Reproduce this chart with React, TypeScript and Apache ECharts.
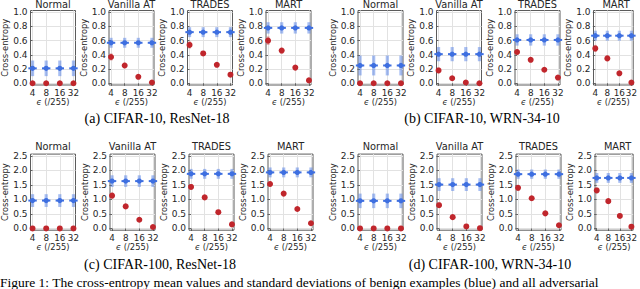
import React, { useEffect, useRef } from "react";
import * as echarts from "echarts";

const epsLabels = ["4", "8", "16", "32"];
const methods = ["Normal", "Vanilla AT", "TRADES", "MART"];
const captions = [
  "(a) CIFAR-10, ResNet-18",
  "(b) CIFAR-10, WRN-34-10",
  "(c) CIFAR-100, ResNet-18",
  "(d) CIFAR-100, WRN-34-10",
];
const figureCaption =
  "Figure 1: The cross-entropy mean values and standard deviations of benign examples (blue) and all adversarial";

// (a) CIFAR-10, ResNet-18
const aBenign = [
  [0.21, 0.21, 0.21, 0.21],
  [0.57, 0.57, 0.57, 0.57],
  [0.72, 0.72, 0.72, 0.72],
  [0.78, 0.78, 0.78, 0.78],
];
const aBenignSd = [0.11, 0.07, 0.07, 0.08];
const aAdv = [
  [0.0, 0.0, 0.0, 0.0],
  [0.37, 0.25, 0.09, 0.01],
  [0.54, 0.42, 0.26, 0.12],
  [0.6, 0.46, 0.22, 0.04],
];
const aAdvSd = [
  [0.01, 0.01, 0.01, 0.01],
  [0.05, 0.04, 0.02, 0.01],
  [0.05, 0.03, 0.02, 0.01],
  [0.06, 0.04, 0.03, 0.01],
];

// (b) CIFAR-10, WRN-34-10
const bBenign = [
  [0.25, 0.25, 0.25, 0.25],
  [0.41, 0.41, 0.41, 0.41],
  [0.61, 0.61, 0.61, 0.61],
  [0.67, 0.67, 0.67, 0.67],
];
const bBenignSd = [0.14, 0.1, 0.08, 0.07];
const bAdv = [
  [0.0, 0.0, 0.0, 0.0],
  [0.18, 0.07, 0.01, 0.0],
  [0.44, 0.33, 0.19, 0.08],
  [0.49, 0.35, 0.14, 0.01],
];
const bAdvSd = [
  [0.01, 0.01, 0.01, 0.01],
  [0.04, 0.02, 0.01, 0.01],
  [0.04, 0.03, 0.02, 0.01],
  [0.05, 0.04, 0.02, 0.01],
];

// (c) CIFAR-100, ResNet-18
const cBenign = [
  [0.96, 0.96, 0.96, 0.96],
  [1.63, 1.63, 1.63, 1.63],
  [1.88, 1.88, 1.88, 1.88],
  [1.93, 1.93, 1.93, 1.93],
];
const cBenignSd = [0.22, 0.2, 0.17, 0.17];
const cAdv = [
  [0.0, 0.0, 0.0, 0.0],
  [1.13, 0.76, 0.3, 0.05],
  [1.43, 1.07, 0.56, 0.14],
  [1.53, 1.2, 0.67, 0.18],
];
const cAdvSd = [
  [0.02, 0.02, 0.02, 0.02],
  [0.1, 0.08, 0.05, 0.02],
  [0.1, 0.08, 0.05, 0.03],
  [0.1, 0.08, 0.06, 0.03],
];

// (d) CIFAR-100, WRN-34-10
const dBenign = [
  [0.95, 0.95, 0.95, 0.95],
  [1.51, 1.51, 1.51, 1.51],
  [1.87, 1.87, 1.87, 1.87],
  [1.74, 1.74, 1.74, 1.74],
];
const dBenignSd = [0.25, 0.22, 0.16, 0.17];
const dAdv = [
  [0.0, 0.0, 0.0, 0.0],
  [0.8, 0.39, 0.07, 0.01],
  [1.4, 1.04, 0.52, 0.11],
  [1.31, 0.94, 0.43, 0.06],
];
const dAdvSd = [
  [0.02, 0.02, 0.02, 0.02],
  [0.09, 0.06, 0.03, 0.02],
  [0.1, 0.08, 0.05, 0.03],
  [0.1, 0.08, 0.05, 0.03],
];

const yTicksTop = [0, 0.2, 0.4, 0.6, 0.8, 1.0];
const yTicksBottom = [0, 0.5, 1.0, 1.5, 2.0, 2.5];

const parts = [
  { benign: aBenign, benignSd: aBenignSd, adv: aAdv, advSd: aAdvSd },
  { benign: bBenign, benignSd: bBenignSd, adv: bAdv, advSd: bAdvSd },
  { benign: cBenign, benignSd: cBenignSd, adv: cAdv, advSd: cAdvSd },
  { benign: dBenign, benignSd: dBenignSd, adv: dAdv, advSd: dAdvSd },
];

// layout
const topLefts = [30.5, 109, 187.5, 266, 358, 436.5, 515, 593.5];
const bottomLefts = [30.5, 110, 189, 268, 358, 437, 516, 595];
const PW = 45;
const captionPos = [
  [157, 118],
  [482, 118],
  [160, 264],
  [490, 264],
];

const FONT = "DejaVu Sans";
const TXT = "#262626";

function buildOption() {
  const grids: any[] = [];
  const xAxes: any[] = [];
  const yAxes: any[] = [];
  const series: any[] = [];
  const titles: any[] = [];

  parts.forEach((part, p) => {
    const bottomRow = p >= 2;
    const half = p % 2;
    methods.forEach((m, k) => {
      const idx = grids.length;
      const left = (bottomRow ? bottomLefts : topLefts)[half * 4 + k];
      const top = bottomRow ? 154.1 : 10.5;
      const height = bottomRow ? 76.1 : 74.5;
      grids.push({
        left,
        top,
        width: PW,
        height,
        show: true,
        borderColor: "#4a4a4a",
        borderWidth: 0.9,
        backgroundColor: "#fff",
      });
      titles.push({
        text: m,
        left: left + PW / 2,
        top: bottomRow ? 141 : -1,
        textAlign: "center",
        padding: 0,
        textStyle: { fontFamily: FONT, fontSize: 9.8, fontWeight: "normal", color: TXT },
      });
      xAxes.push({
        type: "value",
        gridIndex: idx,
        min: -0.15,
        max: 3.15,
        axisLine: { show: false },
        axisTick: {
          show: true,
          customValues: [0, 1, 2, 3],
          length: 2.5,
          lineStyle: { color: "#444", width: 0.8 },
        },
        axisLabel: {
          customValues: [0, 1, 2, 3],
          formatter: (v: number) => epsLabels[Math.round(v)],
          fontFamily: FONT,
          fontSize: 8.8,
          color: TXT,
          margin: 3,
          hideOverlap: false,
        },
        splitLine: { show: true, lineStyle: { color: "#e2e2e2", width: 1 } },
        name: "{e|ϵ} (/255)",
        nameLocation: "middle",
        nameGap: 12,
        nameTextStyle: {
          fontFamily: FONT,
          fontSize: 8.3,
          color: TXT,
          rich: { e: { fontStyle: "italic", fontFamily: FONT, fontSize: 8.3, color: TXT } },
        },
      });
      const yt = bottomRow ? yTicksBottom : yTicksTop;
      yAxes.push({
        type: "value",
        gridIndex: idx,
        min: bottomRow ? -0.06 : -0.025,
        max: bottomRow ? 2.56 : 1.025,
        axisLine: { show: false },
        axisTick: {
          show: true,
          customValues: yt,
          length: 2.5,
          lineStyle: { color: "#444", width: 0.8 },
        },
        axisLabel: {
          customValues: yt,
          formatter: (v: number) => v.toFixed(1),
          fontFamily: FONT,
          fontSize: 9,
          color: TXT,
          margin: 3,
        },
        splitLine: { show: true, lineStyle: { color: "#e2e2e2", width: 1 } },
        name: "Cross-entropy",
        nameLocation: "middle",
        nameGap: 18,
        nameTextStyle: { fontFamily: FONT, fontSize: 8.3, color: TXT },
      });

      const benignData = part.benign[k].map((v, i) => [i, v, part.benignSd[k]]);
      const advData = part.adv[k].map((v, i) => [i, v, part.advSd[k][i]]);

      series.push({
        type: "custom",
        xAxisIndex: idx,
        yAxisIndex: idx,
        data: advData,
        encode: { x: 0, y: 1 },
        z: 3,
        renderItem: (params: any, api: any) => {
          const x = api.value(0);
          const mv = api.value(1);
          const s = api.value(2);
          const t = api.coord([x, mv + s]);
          const b = api.coord([x, mv - s]);
          const c = api.coord([x, mv]);
          return {
            type: "group",
            children: [
              {
                type: "line",
                shape: { x1: t[0], y1: t[1], x2: b[0], y2: b[1] },
                style: { stroke: "rgba(205,70,70,0.45)", lineWidth: 3 },
              },
              {
                type: "circle",
                shape: { cx: c[0], cy: c[1], r: 3 },
                style: { fill: "#c0262c" },
              },
            ],
          };
        },
      });
      series.push({
        type: "custom",
        xAxisIndex: idx,
        yAxisIndex: idx,
        data: benignData,
        encode: { x: 0, y: 1 },
        z: 4,
        renderItem: (params: any, api: any) => {
          const x = api.value(0);
          const mv = api.value(1);
          const s = api.value(2);
          const t = api.coord([x, mv + s]);
          const b = api.coord([x, mv - s]);
          const c = api.coord([x, mv]);
          return {
            type: "group",
            children: [
              {
                type: "line",
                shape: { x1: t[0], y1: t[1], x2: b[0], y2: b[1] },
                style: { stroke: "rgba(80,125,230,0.5)", lineWidth: 3.2 },
              },
              {
                type: "line",
                shape: { x1: c[0] - 4.2, y1: c[1], x2: c[0] + 4.2, y2: c[1] },
                style: { stroke: "#3e6fe0", lineWidth: 2 },
              },
              {
                type: "circle",
                shape: { cx: c[0], cy: c[1], r: 2.6 },
                style: { fill: "#3e6fe0" },
              },
            ],
          };
        },
      });
    });
  });

  const graphics: any[] = captions.map((c, i) => ({
    type: "text",
    x: captionPos[i][0],
    y: captionPos[i][1],
    style: {
      text: c,
      font: '14px "Liberation Serif"',
      fill: "#000",
      align: "center",
      verticalAlign: "middle",
    },
  }));
  graphics.push({
    type: "text",
    x: 0,
    y: 289,
    style: {
      text: figureCaption,
      font: '13.5px "Liberation Serif"',
      fill: "#000",
      align: "left",
      verticalAlign: "bottom",
    },
  });

  return {
    animation: false,
    backgroundColor: "#fff",
    textStyle: { fontFamily: FONT },
    title: titles,
    grid: grids,
    xAxis: xAxes,
    yAxis: yAxes,
    series,
    graphic: graphics,
  };
}

export default function App() {
  const ref = useRef<HTMLDivElement>(null);
  useEffect(() => {
    if (!ref.current) return;
    const chart = echarts.init(ref.current, undefined, { renderer: "svg" });
    chart.setOption(buildOption() as any);
    return () => chart.dispose();
  }, []);
  return (
    <div
      ref={ref}
      style={{ position: "fixed", left: 0, top: 0, width: 640, height: 289, background: "#fff" }}
    />
  );
}
